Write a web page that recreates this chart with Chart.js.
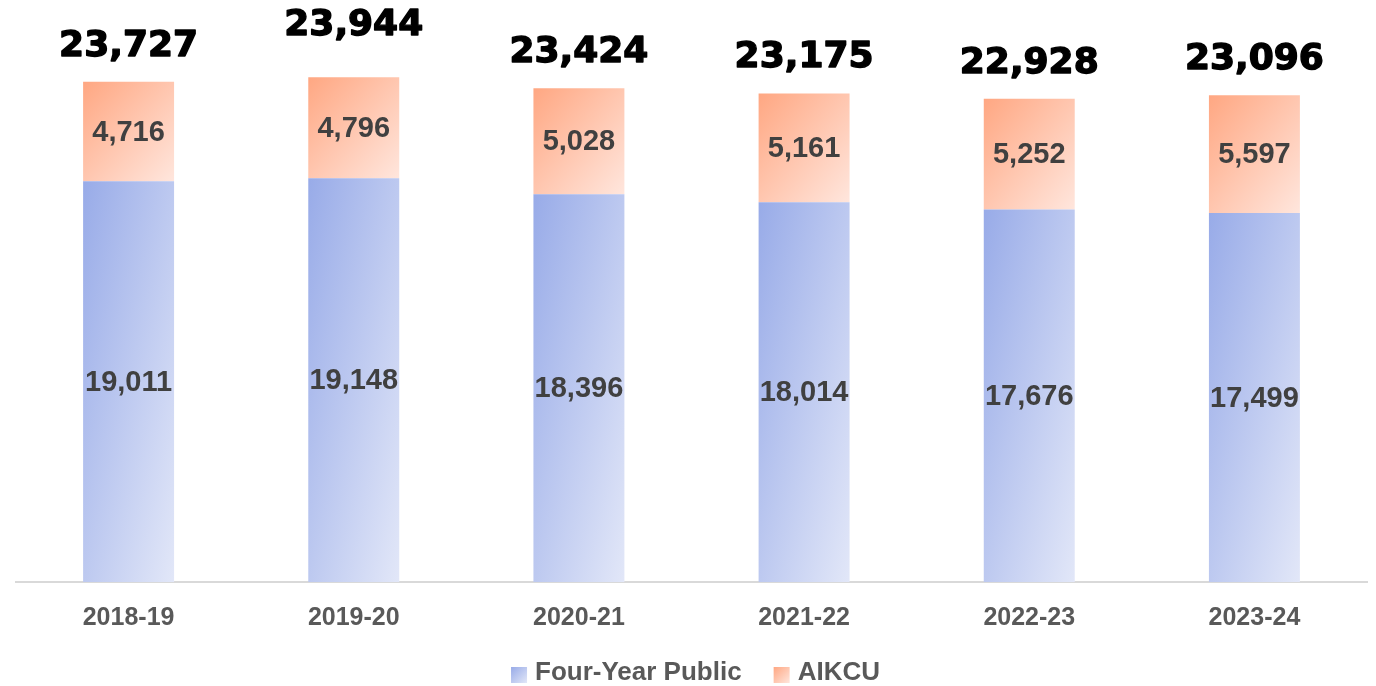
<!DOCTYPE html>
<html>
<head>
<meta charset="utf-8">
<title>Enrollment by sector</title>
<script src="https://cdn.jsdelivr.net/npm/chart.js@4.4.1/dist/chart.umd.min.js"></script>
<style>
  html, body { margin: 0; padding: 0; background: #ffffff; }
  #wrap { width: 1376px; height: 686px; }
</style>
</head>
<body>
<div id="wrap"><canvas id="enrollChart" width="1376" height="686"></canvas></div>
<script>
// chart data
const years = ["2018-19", "2019-20", "2020-21", "2021-22", "2022-23", "2023-24"];
const fourYearPublic = [19011, 19148, 18396, 18014, 17676, 17499];
const aikcu = [4716, 4796, 5028, 5161, 5252, 5597];
const totals = [23727, 23944, 23424, 23175, 22928, 23096];

// gradient stops, top-left -> bottom-right
const blueStops = ["#98abe8", "#e2e7f8"];
const orangeStops = ["#ffa782", "#ffe6dd"];

const labelFont = "'Liberation Sans', Arial, sans-serif";

function fmt(n) {
  return n.toLocaleString("en-US");
}

function boxGradient(ctx, left, top, w, h, stops) {
  // diagonal that follows the box shape (corner to corner)
  const k = (2 * w * h) / (w * w + h * h);
  const g = ctx.createLinearGradient(left, top, left + h * k, top + w * k);
  g.addColorStop(0, stops[0]);
  g.addColorStop(1, stops[1]);
  return g;
}

// paints every bar with its own gradient
const gradientBars = {
  id: "gradientBars",
  beforeDatasetsDraw(chart) {
    const ctx = chart.ctx;
    chart.data.datasets.forEach((ds, di) => {
      chart.getDatasetMeta(di).data.forEach((bar) => {
        const w = bar.width;
        const top = Math.min(bar.y, bar.base);
        const h = Math.abs(bar.base - bar.y);
        const g = boxGradient(ctx, bar.x - w / 2, top, w, h, ds.gradient);
        bar.options = Object.assign({}, bar.options, { backgroundColor: g });
      });
    });
  },
};

// segment values inside the bars and totals on top
const barLabels = {
  id: "barLabels",
  afterDatasetsDraw(chart, args, opts) {
    const ctx = chart.ctx;
    ctx.save();
    ctx.textAlign = "center";

    ctx.fillStyle = "#404040";
    ctx.font = "bold 29px " + labelFont;
    ctx.textBaseline = "middle";
    chart.data.datasets.forEach((ds, di) => {
      chart.getDatasetMeta(di).data.forEach((bar, i) => {
        ctx.fillText(fmt(ds.data[i]), bar.x, (bar.y + bar.base) / 2 + 1);
      });
    });

    const topMeta = chart.getDatasetMeta(chart.data.datasets.length - 1);
    ctx.fillStyle = "#000000";
    ctx.strokeStyle = "#000000";
    ctx.lineWidth = 1.4;
    ctx.lineJoin = "round";
    ctx.font = "bold 36px 'DejaVu Sans', sans-serif";
    ctx.textBaseline = "alphabetic";
    topMeta.data.forEach((bar, i) => {
      const lift = (opts.lift && opts.lift[i]) || 0;
      const y = bar.y - 26 - lift;
      ctx.fillText(fmt(totals[i]), bar.x, y);
      ctx.strokeText(fmt(totals[i]), bar.x, y);
    });
    ctx.restore();
  },
};

// legend under the axis, with gradient swatches
const bottomLegend = {
  id: "bottomLegend",
  afterDraw(chart, args, opts) {
    const ctx = chart.ctx;
    const box = 16, gapText = 8, gapItem = 32;
    ctx.save();
    ctx.font = "bold 26px " + labelFont;
    const items = chart.data.datasets.map((ds) => ({
      text: ds.label,
      stops: ds.gradient,
      w: box + gapText + ctx.measureText(ds.label).width,
    }));
    const total = items.reduce((s, it) => s + it.w, 0) + gapItem * (items.length - 1);
    const area = chart.chartArea;
    let x = (area.left + area.right) / 2 - total / 2 + 4;
    const cy = opts.y;
    ctx.textBaseline = "middle";
    ctx.textAlign = "left";
    items.forEach((it) => {
      ctx.fillStyle = boxGradient(ctx, x, cy - 5, box, box, it.stops);
      ctx.fillRect(x, cy - 5, box, box);
      ctx.fillStyle = "#595959";
      ctx.fillText(it.text, x + box + gapText, cy + 1);
      x += it.w + gapItem;
    });
    ctx.restore();
  },
};

const enrollCtx = document.getElementById("enrollChart").getContext("2d");
const enrollChart = new Chart(enrollCtx, {
  type: "bar",
  data: {
    labels: years,
    datasets: [
      {
        label: "Four-Year Public",
        data: fourYearPublic,
        backgroundColor: "#b9c5ef",
        gradient: blueStops,
      },
      {
        label: "AIKCU",
        data: aikcu,
        backgroundColor: "#ffc2a8",
        gradient: orangeStops,
      },
    ],
  },
  options: {
    responsive: false,
    animation: false,
    events: [],
    layout: {
      padding: { top: 55, left: 16, right: 9, bottom: 32 },
    },
    datasets: {
      bar: {
        categoryPercentage: 1,
        barPercentage: 0.404,
        borderWidth: 0,
      },
    },
    scales: {
      x: {
        stacked: true,
        grid: { display: false, drawTicks: false },
        border: { display: true, color: "#d9d9d9", width: 2 },
        ticks: {
          padding: 21,
          color: "#595959",
          font: { family: labelFont, size: 25, weight: "bold" },
        },
      },
      y: {
        stacked: true,
        display: false,
        min: 0,
        max: 25000,
      },
    },
    plugins: {
      legend: { display: false },
      tooltip: { enabled: false },
      barLabels: { lift: { 1: 16 } },
      bottomLegend: { y: 672 },
    },
  },
  plugins: [gradientBars, barLabels, bottomLegend],
});
</script>
</body>
</html>
